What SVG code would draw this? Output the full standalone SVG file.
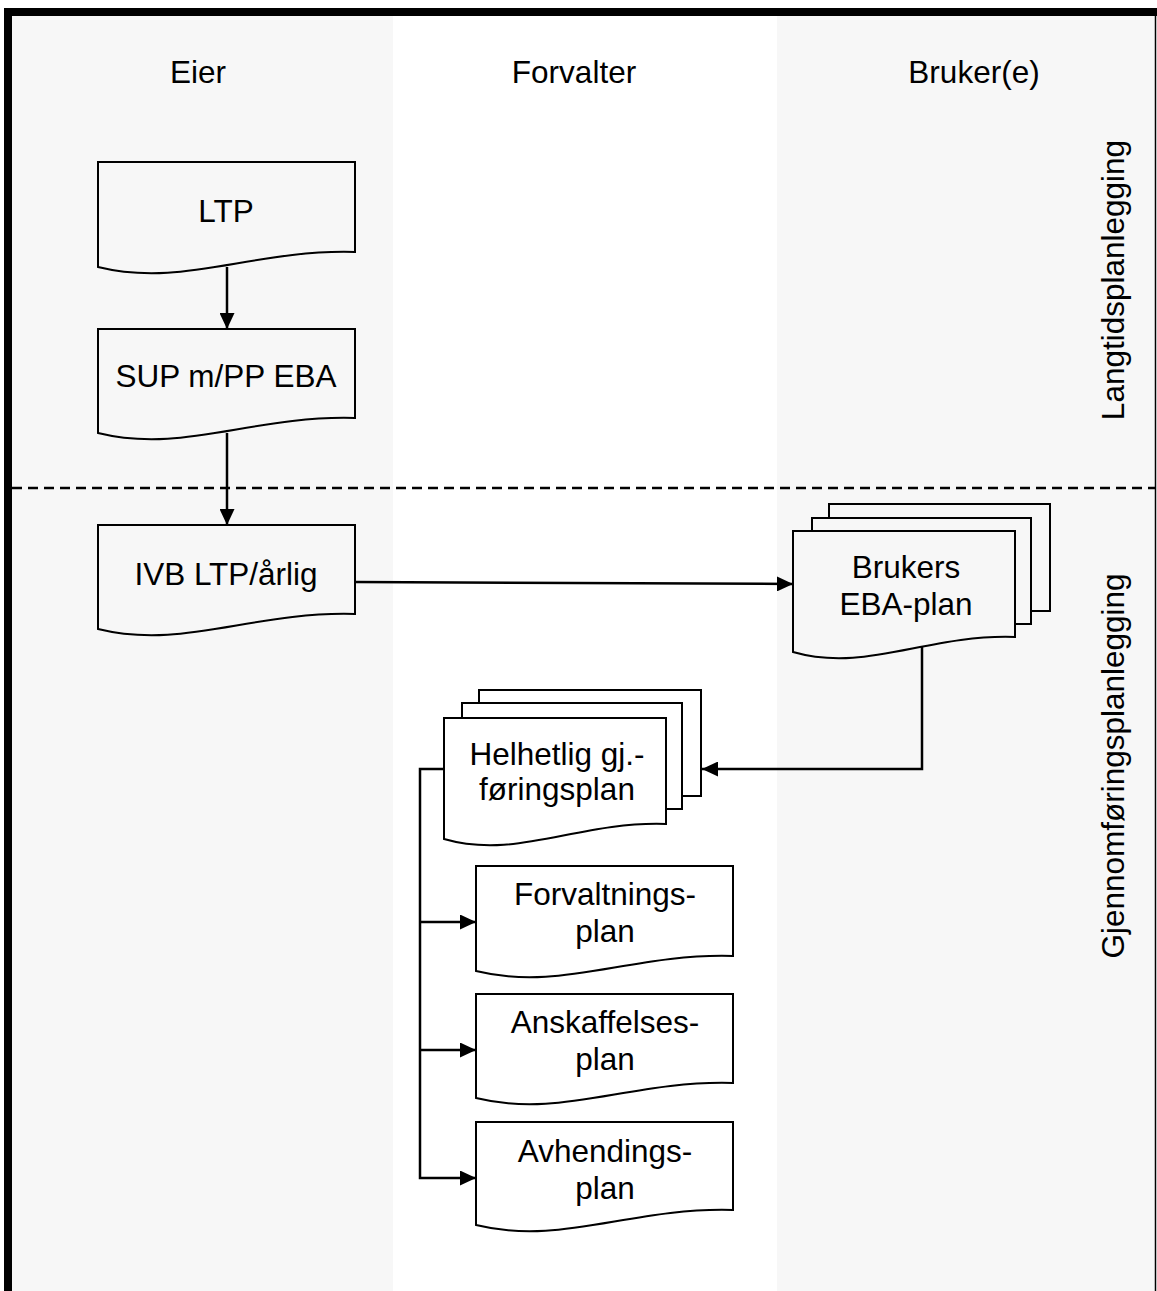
<svg xmlns="http://www.w3.org/2000/svg" width="1157" height="1291" viewBox="0 0 1157 1291">
<style>
text{font-family:"Liberation Sans",Arial,sans-serif;font-size:31.5px;fill:#000;text-anchor:middle}
.doc{stroke:#000;stroke-width:2;stroke-linejoin:miter}
.g{fill:#f7f7f7}
.w{fill:#ffffff}
.con{fill:none;stroke:#000;stroke-width:2.5}
</style>
<defs>
<marker id="arr" markerUnits="userSpaceOnUse" markerWidth="16" markerHeight="15" refX="16" refY="7.5" orient="auto">
<path d="M0,0 L16,7.5 L0,15 Z" fill="#000"/>
</marker>
</defs>
<g id="background">
<rect x="0" y="0" width="1157" height="1291" fill="#ffffff"/>
<rect x="12" y="16" width="381" height="1275" fill="#f7f7f7"/>
<rect x="777" y="16" width="378" height="1275" fill="#f7f7f7"/>
<rect x="4" y="8" width="1153" height="8" fill="#000"/>
<rect x="4" y="8" width="8" height="1283" fill="#000"/>
<line x1="1155.5" y1="8" x2="1155.5" y2="1291" stroke="#000" stroke-width="1.5"/>
<line x1="12" y1="488" x2="1155" y2="488" stroke="#000" stroke-width="2.5" stroke-dasharray="10 6"/>
</g>
<g id="labels">
<text x="198" y="83">Eier</text>
<text x="574" y="83">Forvalter</text>
<text x="974" y="83">Bruker(e)</text>
<text transform="translate(1124,280) rotate(-90)">Langtidsplanlegging</text>
<text transform="translate(1124,766) rotate(-90)">Gjennomføringsplanlegging</text>
</g>
<g id="connectors">
<path class="con" d="M227,267 V329" marker-end="url(#arr)"/>
<path class="con" d="M227,433 V525" marker-end="url(#arr)"/>
<path class="con" d="M355,582 L793,584" marker-end="url(#arr)"/>
<path class="con" d="M922,646 V769 H702" marker-end="url(#arr)"/>
<path class="con" d="M444,769 H420 V1178 H476" marker-end="url(#arr)"/>
<path class="con" d="M420,922 H476" marker-end="url(#arr)"/>
<path class="con" d="M420,1050 H476" marker-end="url(#arr)"/>
</g>
<g id="ltp">
<path class="doc g" d="M98,162 H355 V252 C252,249 183,288 98,267 Z"/>
<text x="226" y="222">LTP</text>
</g>
<g id="sup">
<path class="doc g" d="M98,329 H355 V418 C252,415 183,454 98,433 Z"/>
<text x="226" y="387">SUP m/PP EBA</text>
</g>
<g id="ivb">
<path class="doc g" d="M98,525 H355 V614 C252,611 183,650 98,629 Z"/>
<text x="226" y="585">IVB LTP/årlig</text>
</g>
<g id="brukers">
<rect class="doc g" x="829" y="504" width="221" height="107"/>
<rect class="doc g" x="812" y="518" width="219" height="106"/>
<path class="doc g" d="M793,531 H1015 V637 C926,634 866,673 793,652 Z"/>
<text x="906" y="578">Brukers</text>
<text x="906" y="615">EBA-plan</text>
</g>
<g id="helhetlig">
<rect class="doc w" x="479" y="690" width="222" height="106"/>
<rect class="doc w" x="462" y="703" width="220" height="106"/>
<path class="doc w" d="M444,718 H666 V824 C577,821 517,860 444,839 Z"/>
<text x="557" y="765">Helhetlig gj.-</text>
<text x="557" y="800">føringsplan</text>
</g>
<g id="forvaltning">
<path class="doc w" d="M476,866 H733 V956 C630,953 561,992 476,971 Z"/>
<text x="605" y="905">Forvaltnings-</text>
<text x="605" y="942">plan</text>
</g>
<g id="anskaffelse">
<path class="doc w" d="M476,994 H733 V1083 C630,1080 561,1119 476,1098 Z"/>
<text x="605" y="1033">Anskaffelses-</text>
<text x="605" y="1070">plan</text>
</g>
<g id="avhending">
<path class="doc w" d="M476,1122 H733 V1210 C630,1207 561,1246 476,1225 Z"/>
<text x="605" y="1162">Avhendings-</text>
<text x="605" y="1199">plan</text>
</g>
</svg>
